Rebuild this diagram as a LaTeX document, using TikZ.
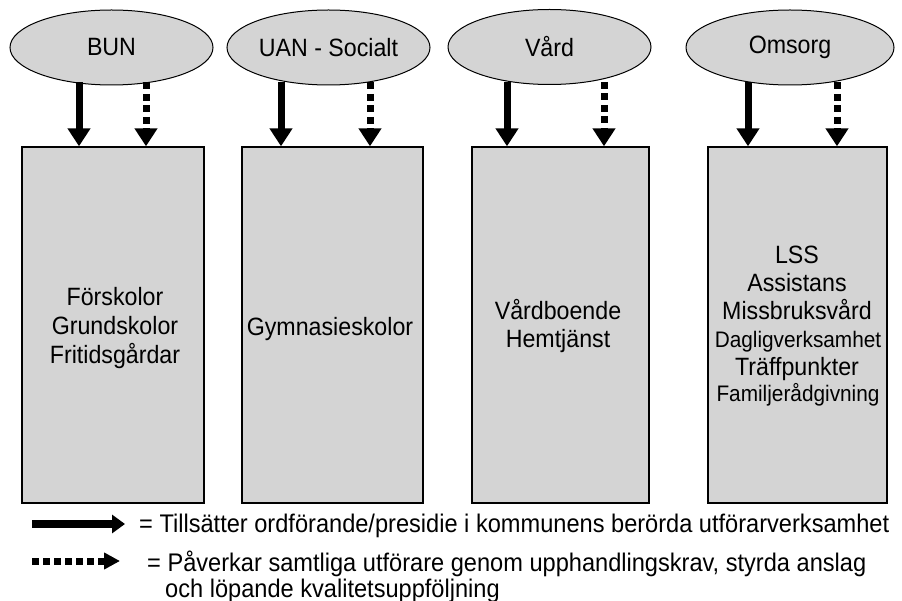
\documentclass[tikz,border=0pt]{standalone}
\usepackage{fontspec}
\usepackage{graphicx}
\setmainfont{Liberation Sans}
\usetikzlibrary{arrows.meta,shapes.geometric}
\definecolor{boxgray}{gray}{0.83}
\newcommand{\tallt}[1]{\scalebox{1}[1.08]{#1}}
\begin{document}
\begin{tikzpicture}[x=1pt,y=-1pt,
  org/.style={ellipse, draw=black, line width=1pt, fill=boxgray, minimum width=203pt, minimum height=75pt, inner sep=0pt, font=\fontsize{23.2}{28}\selectfont},
  unit/.style={draw=black, line width=1.4pt, fill=boxgray, minimum height=356pt, inner sep=0pt},
  txt/.style={anchor=base, inner sep=0pt, font=\fontsize{23.2}{28}\selectfont},
  smalltxt/.style={anchor=base, inner sep=0pt, font=\fontsize{20.8}{28}\selectfont},
  legtxt/.style={anchor=base west, inner sep=0pt, font=\fontsize{23.6}{28}\selectfont},
  solidarrow/.style={line width=7pt, -{Triangle[width=22pt,length=18pt]}},
  dasharrow/.style={line width=7pt, dash pattern=on 7pt off 4.5pt, -{Triangle[width=22pt,length=18pt]}},
  legsolid/.style={line width=8pt, -{Triangle[width=18pt,length=13pt]}},
  legdash/.style={line width=7pt, dash pattern=on 7pt off 4pt, -{Triangle[width=16pt,length=16pt]}}]
\useasboundingbox (0,0) rectangle (902,601);

% organisations
\node[org] (bun) at (111.5,47.5) {\tallt{BUN}};
\node[org] (uan) at (328.5,47.5) {\tallt{UAN - Socialt}};
\node[org] (vard) at (549.5,47) {\tallt{Vård}};
\node[org, minimum width=208pt] (oms) at (790,47.5) {\tallt{Omsorg}};

% units
\node[unit, minimum width=182pt] (bunbox) at (113,325) {};
\node[unit, minimum width=181pt] (uanbox) at (332.5,325) {};
\node[unit, minimum width=177pt] (vardbox) at (560.5,325) {};
\node[unit, minimum width=179pt] (omsbox) at (797.5,325) {};

% arrows
\draw[solidarrow] ([yshift=3pt]79,0 |- bun.south) -- (79,0 |- bunbox.north);
\draw[dasharrow] ([yshift=3pt]146,0 |- bun.south) -- (146,0 |- bunbox.north);
\draw[solidarrow] ([yshift=3pt]281,0 |- uan.south) -- (281,0 |- uanbox.north);
\draw[dasharrow] ([yshift=3pt]370,0 |- uan.south) -- (370,0 |- uanbox.north);
\draw[solidarrow] ([yshift=3pt]507,0 |- vard.south) -- (507,0 |- vardbox.north);
\draw[dasharrow] ([yshift=3pt]604,0 |- vard.south) -- (604,0 |- vardbox.north);
\draw[solidarrow] ([yshift=3pt]748,0 |- oms.south) -- (748,0 |- omsbox.north);
\draw[dasharrow] ([yshift=3pt]837,0 |- oms.south) -- (837,0 |- omsbox.north);

% unit texts
\node[txt] (t1) at (115,306) {\tallt{Förskolor}};
\node[txt] (t2) at (115,334.5) {\tallt{Grundskolor}};
\node[txt] (t3) at (115,363) {\tallt{Fritidsgårdar}};
\node[txt] (t4) at (330,336) {\tallt{Gymnasieskolor}};
\node[txt] (t5) at (558,320) {\tallt{Vårdboende}};
\node[txt] (t6) at (558,348) {\tallt{Hemtjänst}};
\node[txt] (t7) at (797,264) {\tallt{LSS}};
\node[txt] (t8) at (797,292) {\tallt{Assistans}};
\node[txt] (t9) at (797,320) {\tallt{Missbruksvård}};
\node[smalltxt] (t10) at (798,347.5) {\tallt{Dagligverksamhet}};
\node[txt] (t11) at (797,375) {\tallt{Träffpunkter}};
\node[smalltxt] (t12) at (798,402) {\tallt{Familjerådgivning}};

% legend
\coordinate (ls1) at (32,524);
\coordinate (le1) at (125,524);
\coordinate (ls2) at (32,561);
\coordinate (le2) at (120,561);
\draw[legsolid] (ls1) -- (le1);
\draw[legdash] (ls2) -- (le2);
\node[legtxt] (l1) at (139,532) {\tallt{= Tillsätter ordförande/presidie i kommunens berörda utförarverksamhet}};
\node[legtxt] (l2) at (147,571) {\tallt{= Påverkar samtliga utförare genom upphandlingskrav, styrda anslag}};
\node[legtxt] (l3) at (165,597) {\tallt{och löpande kvalitetsuppföljning}};
\end{tikzpicture}
\end{document}
